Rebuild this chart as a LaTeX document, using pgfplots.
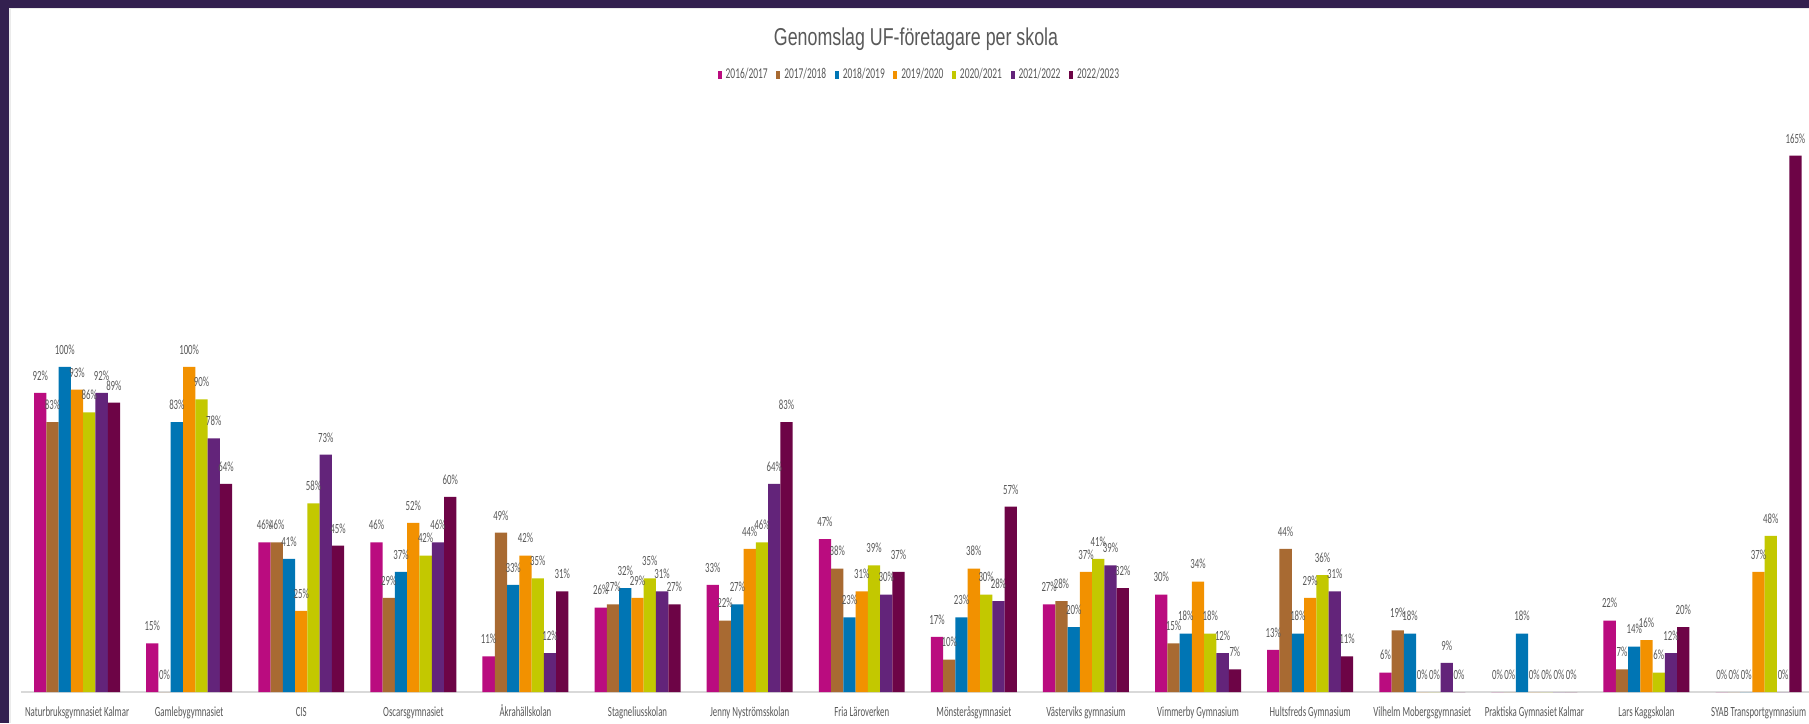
\documentclass[border=0pt]{standalone}
\usepackage{fontspec}
\usepackage{pgfplots}
\usepackage{pgfplotstable}
\pgfplotsset{compat=1.18}
\setmainfont{Carlito}
\newfontfamily\lblfont[FakeStretch=0.63]{Carlito}
\newfontfamily\titlefont[FakeStretch=0.73]{Liberation Sans}
\definecolor{cA}{HTML}{BA0C7F}
\definecolor{cB}{HTML}{A86A32}
\definecolor{cC}{HTML}{0075B4}
\definecolor{cD}{HTML}{F29100}
\definecolor{cE}{HTML}{C3C800}
\definecolor{cF}{HTML}{63247A}
\definecolor{cG}{HTML}{6D0446}
\definecolor{frame}{HTML}{33204F}
\definecolor{txt}{HTML}{595959}

\pgfplotstableread{
x a b c d e f g
0 92 83 100 93 86 92 89
1 15 0 83 100 90 78 64
2 46 46 41 25 58 73 45
3 46 29 37 52 42 46 60
4 11 49 33 42 35 12 31
5 26 27 32 29 35 31 27
6 33 22 27 44 46 64 83
7 47 38 23 31 39 30 37
8 17 10 23 38 30 28 57
9 27 28 20 37 41 39 32
10 30 15 18 34 18 12 7
11 13 44 18 29 36 31 11
12 6 19 18 0 0 9 0
13 0 0 18 0 0 0 0
14 22 7 14 16 6 12 20
15 0 0 0 37 48 0 165
}\data

\pgfplotsset{lg/.style={legend image code/.code={\fill[##1] (0pt,-1.8pt) rectangle (2pt,1.8pt);}}}

\begin{document}
\begin{tikzpicture}
\useasboundingbox (0,0) rectangle (904.5pt,361.5pt);
\fill[white] (0,0) rectangle (904.5pt,361.5pt);
\fill[black!8] (4.25pt,0) rectangle (5.25pt,357.5pt);
\fill[black!8] (4.25pt,356.75pt) rectangle (904.5pt,357.5pt);
\fill[frame] (0,0) rectangle (4.25pt,361.5pt);
\fill[frame] (0,357.5pt) rectangle (904.5pt,361.5pt);
\node[font=\titlefont\fontsize{12.2pt}{14pt}\selectfont, text=txt, anchor=base] at (458pt,338.5pt) {Genomslag UF-företagare per skola};
\begin{axis}[
  at={(10.5pt,15.5pt)}, anchor=south west,
  scale only axis, width=894pt, height=292.5pt,
  xmin=-0.5, xmax=15.45, ymin=0, ymax=180,
  ybar=0pt, bar width=6.14pt,
  /pgf/number format/assume math mode=true,
  axis x line*=bottom, axis y line=none,
  x axis line style={-, draw=black!15, line width=0.8pt},
  xtick={0,...,15},
  xticklabels={Naturbruksgymnasiet Kalmar, Gamlebygymnasiet, CIS, Oscarsgymnasiet, Åkrahällskolan, Stagneliusskolan, Jenny Nyströmsskolan, Fria Läroverken, Mönsteråsgymnasiet, Västerviks gymnasium, Vimmerby Gymnasium, Hultsfreds Gymnasium, Vilhelm Mobergsgymnasiet, Praktiska Gymnasiet Kalmar, Lars Kaggskolan, SYAB Transportgymnasium},
  xtick style={draw=none},
  xticklabel style={font=\lblfont\fontsize{7pt}{8pt}\selectfont, text=txt, anchor=base, yshift=-8pt},
  ytick=\empty,
  nodes near coords={\pgfmathprintnumber[fixed,precision=0,assume math mode=true]{\pgfplotspointmeta}\%},
  every node near coord/.append style={font=\lblfont\fontsize{7pt}{8pt}\selectfont, text=txt, inner sep=0pt, anchor=south, yshift=6pt},
  legend columns=7,
  legend style={at={(0.503,1.0547)}, anchor=center, draw=none, fill=none,
    font=\lblfont\fontsize{7.5pt}{9pt}\selectfont, text=txt,
    /tikz/every even column/.append style={column sep=2.3pt}},
  clip=false,
]
\addplot[fill=cA, draw=none, lg] table[x=x,y=a]{\data};
\addplot[fill=cB, draw=none, lg] table[x=x,y=b]{\data};
\addplot[fill=cC, draw=none, lg] table[x=x,y=c]{\data};
\addplot[fill=cD, draw=none, lg] table[x=x,y=d]{\data};
\addplot[fill=cE, draw=none, lg] table[x=x,y=e]{\data};
\addplot[fill=cF, draw=none, lg] table[x=x,y=f]{\data};
\addplot[fill=cG, draw=none, lg] table[x=x,y=g]{\data};
\legend{2016/2017,2017/2018,2018/2019,2019/2020,2020/2021,2021/2022,2022/2023}
\end{axis}
\end{tikzpicture}
\end{document}
